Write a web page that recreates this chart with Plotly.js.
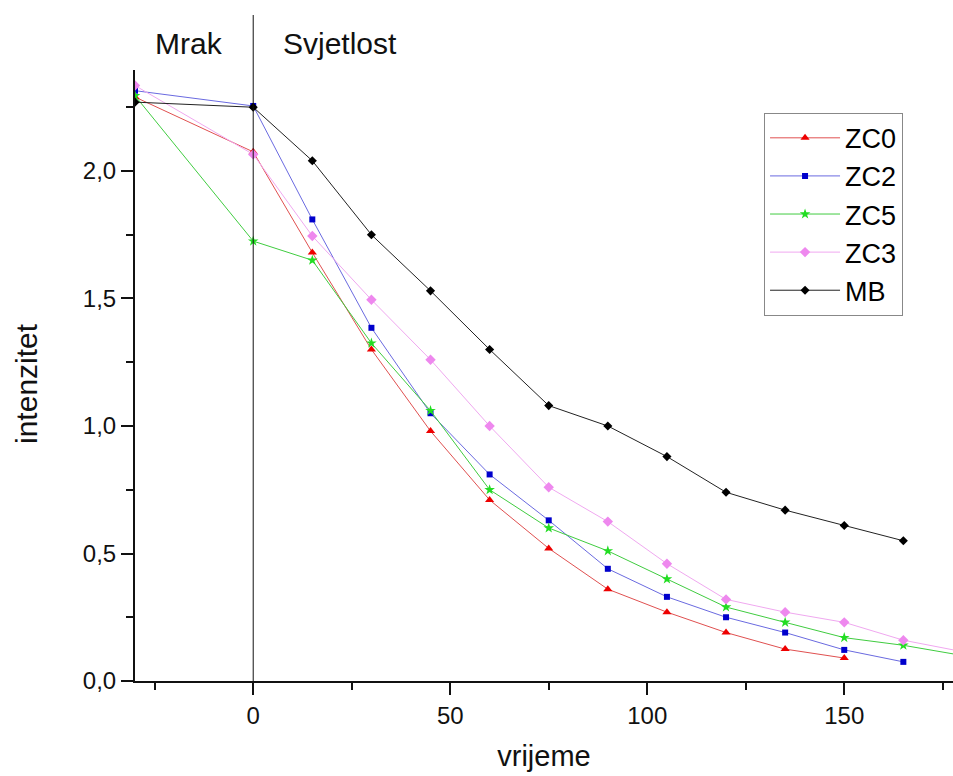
<!DOCTYPE html>
<html>
<head>
<meta charset="utf-8">
<script src="https://cdn.plot.ly/plotly-3.0.1.min.js"></script>
<style>body{margin:0;padding:0;background:#fff}#chart{width:953px;height:776px}</style>
</head>
<body>
<div id="chart"></div>
<script>
const time = [-30, 0, 15, 30, 45, 60, 75, 90, 105, 120, 135, 150, 165, 180];
const ZC0 = [2.29, 2.075, 1.68, 1.30, 0.98, 0.71, 0.52, 0.36, 0.27, 0.19, 0.125, 0.09];
const ZC2 = [2.315, 2.255, 1.81, 1.385, 1.05, 0.81, 0.63, 0.44, 0.33, 0.25, 0.19, 0.122, 0.075];
const ZC5 = [2.295, 1.725, 1.65, 1.325, 1.06, 0.75, 0.60, 0.51, 0.40, 0.29, 0.23, 0.17, 0.14, 0.10];
const ZC3 = [2.335, 2.065, 1.745, 1.495, 1.26, 1.0, 0.76, 0.625, 0.46, 0.32, 0.27, 0.23, 0.16, 0.115];
const MB = [2.27, 2.25, 2.04, 1.75, 1.53, 1.30, 1.08, 1.0, 0.88, 0.74, 0.67, 0.61, 0.55];

const seriesNames = ['ZC0', 'ZC2', 'ZC5', 'ZC3', 'MB'];
const seriesData = [ZC0, ZC2, ZC5, ZC3, MB];
const lineColors = ['#e05050', '#6a6ae0', '#40cc40', '#f0a8f0', '#222222'];
const markerColors = ['#ee0000', '#0000cc', '#22dd22', '#ee88ee', '#000000'];
const markerSymbols = ['triangle-up', 'square', 'star', 'diamond', 'diamond'];
const markerSizes = [8, 6, 8, 8, 7];

const traces = seriesData.map((vals, i) => ({
  type: 'scatter',
  mode: 'lines+markers',
  name: seriesNames[i],
  x: time.slice(0, vals.length),
  y: vals,
  line: {color: lineColors[i], width: 1},
  marker: {color: markerColors[i], symbol: markerSymbols[i], size: markerSizes[i]},
  cliponaxis: true
}));

const font = 'Liberation Sans, Arial, sans-serif';
const layout = {
  width: 953, height: 776,
  margin: {l: 135, r: 0, t: 70, b: 95},
  paper_bgcolor: '#fff', plot_bgcolor: '#fff',
  separators: ',.',
  font: {family: font, color: '#111'},
  showlegend: true,
  legend: {
    x: 0.769, y: 0.93, xanchor: 'left', yanchor: 'top',
    bordercolor: '#888', borderwidth: 1, bgcolor: '#fff',
    font: {size: 27, family: font, color: '#000'},
    itemwidth: 70,
    tracegroupgap: 0
  },
  xaxis: {
    range: [-30, 177.6],
    tickvals: [0, 50, 100, 150],
    ticks: 'outside', ticklen: 12, tickwidth: 2, tickcolor: '#111',
    minor: {tickvals: [-25, 25, 75, 125, 175], ticks: 'outside', ticklen: 7, tickwidth: 2, tickcolor: '#111'},
    showline: true, linecolor: '#111', linewidth: 2,
    showgrid: false, zeroline: false,
    tickfont: {size: 24, family: font, color: '#111'},
    title: {text: 'vrijeme', font: {size: 29, family: font, color: '#111'}, standoff: 18}
  },
  yaxis: {
    range: [0, 2.396],
    tick0: 0, dtick: 0.5, tickformat: '.1f',
    ticks: 'outside', ticklen: 12, tickwidth: 2, tickcolor: '#111',
    minor: {dtick: 0.25, ticks: 'outside', ticklen: 7, tickwidth: 2, tickcolor: '#111'},
    showline: true, linecolor: '#111', linewidth: 2,
    showgrid: false, zeroline: false,
    tickfont: {size: 24, family: font, color: '#111'}
  },
  shapes: [
    {type: 'line', xref: 'x', yref: 'paper', x0: 0, x1: 0, y0: 0, y1: 1.09, line: {color: '#111', width: 1}},
    {type: 'line', xref: 'paper', yref: 'paper', x0: -0.015, x1: 0, y0: 0, y1: 0, line: {color: '#111', width: 2}}
  ],
  annotations: [
    {text: 'intenzitet', xref: 'paper', yref: 'paper', x: -0.1333, y: 0.4877, xanchor: 'center', yanchor: 'middle', textangle: -90, showarrow: false, font: {size: 30, family: font, color: '#111'}},
    {text: 'Mrak', xref: 'x', yref: 'paper', x: -25.5, y: 1.043, xanchor: 'left', yanchor: 'middle', showarrow: false, font: {size: 30, family: font, color: '#111'}},
    {text: 'Svjetlost', xref: 'x', yref: 'paper', x: 7.0, y: 1.043, xanchor: 'left', yanchor: 'middle', showarrow: false, font: {size: 30, family: font, color: '#111'}}
  ]
};

Plotly.newPlot('chart', traces, layout, {displayModeBar: false, staticPlot: true});
</script>
</body>
</html>
